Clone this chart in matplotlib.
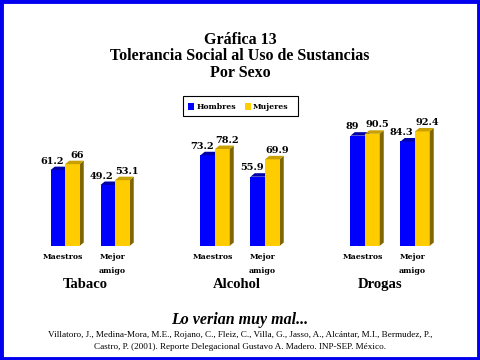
import matplotlib
matplotlib.use("Agg")
import matplotlib.pyplot as plt
from matplotlib.patches import Polygon, Rectangle

groups = ["Tabaco", "Alcohol", "Drogas"]
subcats = ["Maestros", "Mejor\namigo"]
hombres = [61.2, 49.2, 73.2, 55.9, 89, 84.3]
mujeres = [66, 53.1, 78.2, 69.9, 90.5, 92.4]
hombres_lbl = ["61.2", "49.2", "73.2", "55.9", "89", "84.3"]
mujeres_lbl = ["66", "53.1", "78.2", "69.9", "90.5", "92.4"]

BLUE, BLUE_TOP, BLUE_SIDE = "#0000FF", "#0000A8", "#00007A"
YEL, YEL_TOP, YEL_SIDE = "#FFCC00", "#C8A000", "#806600"

serif = "Liberation Serif"
wide = "DejaVu Serif"
fig = plt.figure(figsize=(4.8, 3.6), dpi=100)
fig.patch.set_facecolor("white")
ax = fig.add_axes([0, 0, 1, 1])
# x unit = 50 px, centre of first pair at px 65; y unit = 1.24 px, baseline at px 246
ax.set_xlim(-1.3, 8.3)
ax.set_ylim(-(360 - 246) / 1.24, 246 / 1.24)
ax.axis("off")

# border
fig.patches.append(Rectangle((0.003, 0.004), 0.994, 0.992, transform=fig.transFigure,
                             fill=False, edgecolor="#0000EE", linewidth=3.5))

w = 0.29
dx, dy = 0.085, 2.8
xs = []
for g in range(3):
    for s in range(2):
        xs.append(g * 3 + s)

def bar3d(x0, h, front, top, side):
    ax.add_patch(Rectangle((x0, 0), w, h, facecolor=front, edgecolor="none", zorder=3))
    ax.add_patch(Polygon([(x0, h), (x0 + w, h), (x0 + w + dx, h + dy), (x0 + dx, h + dy)],
                         closed=True, facecolor=top, edgecolor="none", zorder=3))
    ax.add_patch(Polygon([(x0 + w, 0), (x0 + w + dx, dy), (x0 + w + dx, h + dy), (x0 + w, h)],
                         closed=True, facecolor=side, edgecolor="none", zorder=2))

for i, x in enumerate(xs):
    bar3d(x - w, hombres[i], BLUE, BLUE_TOP, BLUE_SIDE)
    bar3d(x, mujeres[i], YEL, YEL_TOP, YEL_SIDE)
    ax.text(x - w / 2 - 0.12, hombres[i] + 3.5, hombres_lbl[i], ha="center", va="bottom",
            fontsize=7, fontweight="bold", family=wide)
    ax.text(x + w / 2 + 0.1, mujeres[i] + 3.5, mujeres_lbl[i], ha="center", va="bottom",
            fontsize=7, fontweight="bold", family=wide)
    lbl = subcats[i % 2]
    ax.text(x - 0.05, -6, lbl, ha="center", va="top", fontsize=5.6, fontweight="bold",
            family=wide, linespacing=2.0)

label_off = [0.4, 0.44, 0.3]
for g, name in enumerate(groups):
    ax.text(g * 3 + label_off[g], -31, name, ha="center", va="center", fontsize=10.5,
            fontweight="bold", family=serif)

fig.text(0.5, 1 - 40 / 360, "Gráfica 13", ha="center", va="center", fontsize=11.5,
         fontweight="bold", family=serif)
fig.text(0.5, 1 - 56 / 360, "Tolerancia Social al Uso de Sustancias", ha="center",
         va="center", fontsize=11.5, fontweight="bold", family=serif)
fig.text(0.5, 1 - 73 / 360, "Por Sexo", ha="center", va="center", fontsize=11.5,
         fontweight="bold", family=serif)

# legend
fig.patches.append(Rectangle((183 / 480, 1 - 116 / 360), 115 / 480, 20 / 360,
                             transform=fig.transFigure, facecolor="white",
                             edgecolor="black", linewidth=0.8))
fig.patches.append(Rectangle((188 / 480, 1 - 110 / 360), 6 / 480, 7 / 360,
                             transform=fig.transFigure, facecolor=BLUE, edgecolor="none"))
fig.text(197 / 480, 1 - 106.5 / 360, "Hombres", ha="left", va="center", fontsize=5.6,
         fontweight="bold", family=wide)
fig.patches.append(Rectangle((245 / 480, 1 - 110 / 360), 6 / 480, 7 / 360,
                             transform=fig.transFigure, facecolor=YEL, edgecolor="none"))
fig.text(253 / 480, 1 - 106.5 / 360, "Mujeres", ha="left", va="center", fontsize=5.6,
         fontweight="bold", family=wide)

fig.text(0.5, 1 - 320 / 360, "Lo verian muy mal...", ha="center", va="center",
         fontsize=11.5, fontstyle="italic", fontweight="bold", family=serif)
fig.text(0.5, 1 - 335 / 360,
         "Villatoro, J., Medina-Mora, M.E., Rojano, C., Fleiz, C., Villa, G., Jasso, A., Alcántar, M.I., Bermudez, P.,",
         ha="center", va="center", fontsize=6.6, family=serif)
fig.text(0.5, 1 - 347 / 360,
         "Castro, P. (2001). Reporte Delegacional Gustavo A. Madero. INP-SEP. México.",
         ha="center", va="center", fontsize=6.6, family=serif)

fig.savefig("out.png", dpi=100)
